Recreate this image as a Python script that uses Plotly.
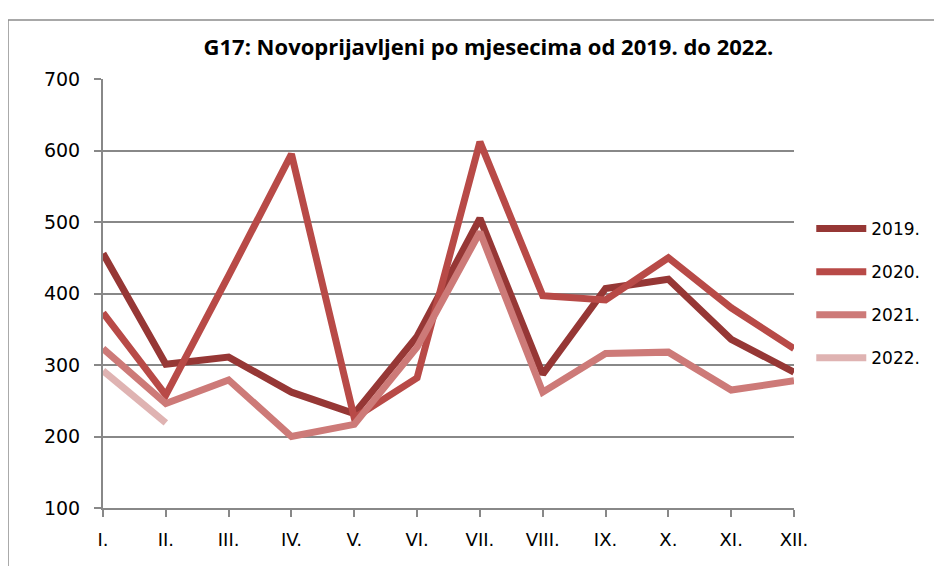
import plotly.graph_objects as go

months = ["I.", "II.", "III.", "IV.", "V.", "VI.", "VII.", "VIII.", "IX.", "X.", "XI.", "XII."]
y2019 = [456, 301, 311, 262, 232, 340, 505, 287, 407, 420, 336, 290]
y2020 = [373, 258, 425, 595, 226, 282, 612, 397, 391, 450, 380, 323]
y2021 = [323, 246, 279, 200, 217, 325, 486, 262, 316, 318, 265, 278]
y2022 = [292, 219]

series_names = ["2019.", "2020.", "2021.", "2022."]
series_vals = [y2019, y2020, y2021, y2022]
colors = ["#963735", "#B84A47", "#CD7A78", "#DFB3B2"]

fig = go.Figure()
for name, vals, col in zip(series_names, series_vals, colors):
    fig.add_trace(go.Scatter(
        x=months[:len(vals)], y=vals, name=name, mode="lines",
        line=dict(color=col, width=7), legendgroup=name,
    ))

font_fam = "DejaVu Sans"
axis_gray = "#888888"

fig.update_layout(
    width=942, height=566,
    margin=dict(l=95, r=156, t=71, b=66),
    paper_bgcolor="white", plot_bgcolor="white",
    title=dict(text="<b>G17: Novoprijavljeni po mjesecima od 2019. do 2022.</b>",
               x=0.51, xanchor="center", y=0.93, yanchor="middle",
               font=dict(family="Open Sans", size=22, color="black")),
    showlegend=True,
    legend=dict(x=1.025, xanchor="left", y=0.5, yanchor="middle",
                font=dict(family=font_fam, size=17, color="black"),
                itemwidth=50, tracegroupgap=18, bgcolor="rgba(0,0,0,0)"),
    xaxis=dict(type="category", range=[0, 11], showgrid=False,
               showline=True, linecolor=axis_gray, linewidth=2,
               ticks="outside", ticklen=7, tickcolor=axis_gray, tickwidth=1.5,
               ticklabelstandoff=7,
               tickfont=dict(family=font_fam, size=18, color="black"),
               zeroline=False),
    yaxis=dict(range=[100, 700], dtick=100, showgrid=True, gridcolor=axis_gray,
               gridwidth=1.5, showline=True, linecolor=axis_gray, linewidth=2,
               ticks="outside", ticklen=7, tickcolor=axis_gray, tickwidth=1.5,
               ticklabelstandoff=10,
               tickfont=dict(family=font_fam, size=19, color="black"),
               zeroline=False),
    shapes=[dict(type="rect", xref="paper", yref="paper",
                 x0=-0.1375, x1=1.23, y0=-0.15, y1=1.1375,
                 line=dict(color="#8C8C8C", width=1.5), fillcolor="rgba(0,0,0,0)",
                 layer="below")],
)

fig.write_html("out.html")
